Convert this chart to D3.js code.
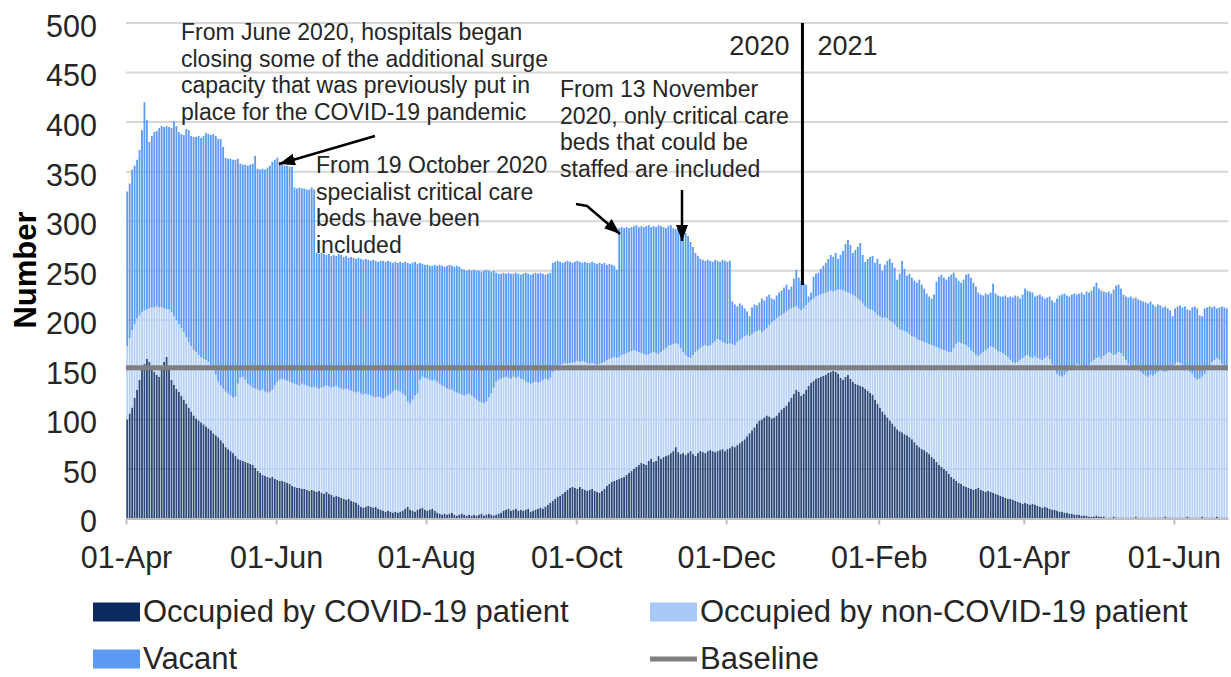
<!DOCTYPE html>
<html>
<head>
<meta charset="utf-8">
<script src="https://cdn.jsdelivr.net/npm/d3@7"></script>
<style>
  body { margin: 0; background: #fff; }
  svg { display: block; font-family: "Liberation Sans", Arial, sans-serif; }
</style>
</head>
<body>
<svg id="chart" width="1231" height="677"></svg>
<script>
// Daily critical care beds, 01 Apr 2020 onwards (one value per day)
const startDate = new Date(2020, 3, 1);

const covid = [
  100,106,112,122,130,140,150, 156,161,158,152,148,145,143, 150,158,163,150,140,135,131, 128,124,120,116,112,108,104,
  101,99,97,95,93,91,89, 86,84,82,79,76,72,70, 68,66,63,60,59,58,57, 56,55,54,51,48,46,44,
  43,42,41,42,40,39,38, 38,37,36,35,33,32,31, 31,30,30,29,28,29,28, 27,28,26,25,27,25,24,
  22,23,22,21,20,19,20, 18,17,16,14,12,11,12, 13,12,11,12,10,9,8, 7,8,7,6,7,6,7,
  8,10,12,9,8,7,9, 10,11,9,8,9,10,8, 6,5,4,5,4,5,6, 4,3,4,5,4,3,4,
  3,4,3,4,5,3,4, 5,4,3,4,5,6,8, 9,10,8,9,10,8,9, 8,9,10,7,8,9,10,
  11,10,12,14,16,18,20, 22,23,25,27,29,31,32, 31,30,32,30,29,28,29, 30,28,27,26,28,30,33,
  35,37,38,39,40,41,42, 44,46,48,50,52,54,56, 55,54,58,60,57,58,63, 60,62,63,64,66,68,72,
  67,65,66,64,66,68,65, 63,66,68,67,66,68,69, 68,67,68,69,70,68,70, 71,73,72,74,76,78,80,
  83,86,89,92,96,99,100, 102,104,103,101,102,104,107, 110,112,114,118,122,126,130, 128,124,126,130,134,137,139,
  141,142,143,144,145,147,148, 149,148,146,142,140,143,145, 141,138,136,135,134,133,131, 129,127,125,120,116,112,108,
  105,102,99,96,93,90,88, 87,85,84,82,80,77,74, 72,70,69,67,65,62,60, 57,54,52,50,48,45,42,
  40,38,36,35,33,32,31, 30,29,30,31,29,28,27, 28,27,26,25,24,23,22, 21,20,20,19,18,17,16,
  15,16,15,14,15,14,13, 12,11,12,11,10,9,9, 8,7,7,6,6,5,5, 4,4,4,3,3,3,2,
  2,2,3,2,2,2,1, 1,1,2,1,1,1,1, 1,1,1,1,2,1,1, 1,1,1,1,1,1,1,
  1,1,2,1,1,1,1, 1,1,1,1,2,1,1, 1,1,1,2,1,1,1, 1,1,2,1,1,1,1
];

const nonCovid = [
  74,76,78,74,72,65,58, 54,50,54,61,65,69,70, 63,54,48,61,68,69,69, 68,68,68,67,66,66,66,
  67,66,66,66,67,67,66, 64,61,56,55,55,56,56, 56,56,60,76,83,85,83, 80,79,78,80,82,83,86,
  85,85,87,88,94,99,102, 103,103,103,103,104,104,104, 103,106,105,105,105,103,105, 105,103,106,108,107,108,108,
  111,111,110,110,110,112,110, 111,111,111,114,114,114,114, 112,112,112,110,113,113,113, 115,116,119,122,123,123,121,
  118,114,106,107,112,117,117, 130,132,133,133,131,129,132, 132,131,130,128,127,125,124, 124,124,122,120,120,122,122,
  121,118,117,114,112,113,114, 117,122,129,134,135,135,134, 134,132,133,134,132,135,132, 132,129,127,129,129,129,127,
  127,130,129,126,126,130,132, 132,132,131,130,127,126,125, 127,129,126,129,129,129,127, 127,128,128,130,129,128,127,
  126,125,125,123,123,124,124, 123,122,121,120,117,114,111, 111,111,108,107,111,109,103, 108,108,109,110,109,108,105,
  109,107,102,101,97,94,100, 105,104,104,107,109,106,106, 109,112,113,111,108,109,106, 106,103,103,104,104,104,104,
  102,98,97,96,93,91,88, 88,88,92,97,98,98,97, 95,95,95,93,90,87,84, 84,86,86,85,84,83,83,
  83,83,83,83,83,82,82, 80,82,85,89,90,86,83, 86,88,88,87,86,84,83, 83,84,85,88,89,92,94,
  98,100,101,102,103,103,103, 103,104,104,104,104,106,107, 108,109,109,110,111,113,114, 116,118,119,120,121,123,126,
  132,138,142,142,143,143,142, 140,139,135,133,137,140,143, 144,147,147,146,145,145,145, 144,143,140,139,139,141,144,
  147,148,150,149,147,150,149, 149,149,150,153,151,147,141, 138,137,136,139,142,145,147, 150,152,151,150,148,149,153,
  156,158,159,161,159,162,165, 167,166,163,165,167,166,163, 159,155,153,151,148,150,147, 145,143,142,144,143,145,147,
  149,148,146,148,150,152,155, 157,156,154,151,148,147,145, 141,139,140,141,145,149,153, 157,159,160,159,155,152,150
];

const vacant = [
  156,156,162,160,160,167,184, 210,191,168,173,177,177,181, 183,183,185,184,186,197,196, 194,196,199,210,214,212,215,
  217,221,221,225,229,230,232, 238,241,245,249,244,236,237, 239,240,239,227,216,214,217, 220,223,226,235,223,223,223,
  224,227,228,230,228,226,220, 216,216,217,217,218,198,198, 200,197,198,198,199,202,199, 136,136,136,134,132,134,133,
  133,131,135,135,134,134,133, 135,135,135,135,136,136,136, 136,136,138,138,136,138,139, 137,136,133,130,129,129,131,
  132,135,140,141,138,135,131, 118,114,114,115,115,116,116, 117,120,121,121,124,126,125, 126,128,128,127,127,125,125,
  126,129,130,132,132,134,133, 128,123,118,110,107,106,106, 104,106,106,104,106,104,105, 107,110,110,110,110,110,110,
  110,107,105,107,106,110,107, 106,104,102,102,104,102,101, 101,101,101,99,101,101,102, 102,102,102,102,100,100,96,
  96,94,92,89,130,129,127, 127,125,125,125,127,126,128, 128,130,130,127,127,127,130, 127,124,121,121,121,117,115,
  117,122,124,123,122,117,109, 100,95,90,87,85,87,85, 82,82,79,79,83,83,83, 83,43,41,36,37,33,28,
  24,20,27,28,26,28,34, 30,32,31,24,21,23,24, 25,26,27,20,22,29,37, 31,30,26,21,6,8,22,
  23,23,26,28,30,33,36, 35,38,31,35,40,48,53, 49,42,47,52,58,49,45, 50,53,55,50,57,53,48,
  53,58,62,60,57,48,56, 70,63,57,61,59,57,57, 61,57,54,50,48,47,52, 66,72,75,73,72,76,78,
  76,67,62,61,65,71,74, 73,70,69,64,60,57,57, 54,54,64,56,56,56,57, 60,60,64,65,68,66,62,
  64,68,65,66,66,60,63, 65,64,60,59,63,64,68, 76,81,83,82,77,74,74, 73,70,72,75,75,77,73,
  72,74,76,69,69,65,62, 61,60,66,69,68,65,62, 64,67,70,70,73,70,72, 73,74,74,74,72,68,68,
  65,64,66,63,59,51,56, 56,58,58,62,61,62,67, 72,72,64,61,66,63,60, 55,54,50,53,58,60,61
];

const baselineBeds = 152;

const yTicks = [0, 50, 100, 150, 200, 250, 300, 350, 400, 450, 500];
const xTickDates = [
  new Date(2020, 3, 1), new Date(2020, 5, 1), new Date(2020, 7, 1), new Date(2020, 9, 1),
  new Date(2020, 11, 1), new Date(2021, 1, 1), new Date(2021, 3, 1), new Date(2021, 5, 1)
];
const xTickLabels = ['01-Apr', '01-Jun', '01-Aug', '01-Oct', '01-Dec', '01-Feb', '01-Apr', '01-Jun'];

const seriesKeys = ['covid', 'nonCovid', 'vacant'];
// bars are drawn thinner than a day, so these mix with the white gaps
const seriesColors = { covid: '#2a4878', nonCovid: '#b6d1f9', vacant: '#5d9cf4' };

const svg = d3.select('#chart');
const font = '"Liberation Sans", Arial, sans-serif';

// Scales

const rows = covid.map((c, i) => ({
  date: d3.timeDay.offset(startDate, i),
  covid: c,
  nonCovid: nonCovid[i],
  vacant: vacant[i],
}));

const x = d3.scaleTime()
  .domain([startDate, d3.timeDay.offset(startDate, rows.length)])
  .range([126, 1228]);

const y = d3.scaleLinear()
  .domain([0, 500])
  .range([518.5, 23]);

// Gridlines

svg.append('g')
  .selectAll('line')
  .data(yTicks.slice(1))
  .join('line')
  .attr('x1', x.range()[0])
  .attr('x2', x.range()[1])
  .attr('y1', d => y(d))
  .attr('y2', d => y(d))
  .attr('stroke', '#d6d6d6')
  .attr('stroke-width', 2);

// Stacked daily bars

const stacked = d3.stack().keys(seriesKeys)(rows);
const dayWidth = x(d3.timeDay.offset(startDate, 1)) - x(startDate);
const barWidth = dayWidth * 0.74;

svg.append('g')
  .selectAll('g')
  .data(stacked)
  .join('g')
  .attr('fill', d => seriesColors[d.key])
  .selectAll('rect')
  .data(d => d)
  .join('rect')
  .attr('x', d => x(d.data.date) + (dayWidth - barWidth) / 2)
  .attr('width', barWidth)
  .attr('y', d => y(d[1]))
  .attr('height', d => y(d[0]) - y(d[1]));

// Baseline

svg.append('line')
  .attr('x1', x.range()[0])
  .attr('x2', x.range()[1])
  .attr('y1', y(baselineBeds))
  .attr('y2', y(baselineBeds))
  .attr('stroke', '#7f7f7f')
  .attr('stroke-width', 5);

// Axes

const xAxis = svg.append('g')
  .attr('transform', `translate(0, ${y(0)})`)
  .call(d3.axisBottom(x)
    .tickValues(xTickDates)
    .tickFormat((d, i) => xTickLabels[i])
    .tickSizeInner(6)
    .tickSizeOuter(0)
    .tickPadding(22));
xAxis.select('.domain').attr('stroke', '#bfbfbf').attr('stroke-width', 2);
xAxis.selectAll('.tick line').attr('stroke', '#bfbfbf').attr('stroke-width', 2);
xAxis.selectAll('text').attr('font-size', 30.5).attr('font-family', font).attr('fill', '#262626');

const yAxis = svg.append('g')
  .attr('transform', `translate(${x.range()[0]}, 0)`)
  .call(d3.axisLeft(y).tickValues(yTicks).tickSize(0).tickPadding(29));
yAxis.select('.domain').remove();
yAxis.selectAll('text')
  .attr('font-size', 30.5)
  .attr('font-family', font)
  .attr('fill', '#262626')
  .attr('dy', '0.44em');

svg.append('text')
  .attr('transform', 'translate(36, 270) rotate(-90)')
  .attr('text-anchor', 'middle')
  .attr('font-size', 31)
  .attr('font-weight', 'bold')
  .attr('fill', '#000')
  .text('Number');

// Annotations

const defs = svg.append('defs');
defs.append('marker')
  .attr('id', 'head')
  .attr('viewBox', '0 0 16 12')
  .attr('refX', 16)
  .attr('refY', 6)
  .attr('markerWidth', 16)
  .attr('markerHeight', 12)
  .attr('markerUnits', 'userSpaceOnUse')
  .attr('orient', 'auto')
  .append('path')
  .attr('d', 'M0,0 L16,6 L0,12 Z')
  .attr('fill', '#000');

const notes = [
  { x: 181, y: 40, lines: ['From June 2020, hospitals began', 'closing some of the additional surge',
    'capacity that was previously put in', 'place for the COVID-19 pandemic'] },
  { x: 316, y: 173, lines: ['From 19 October 2020', 'specialist critical care', 'beds have been', 'included'] },
  { x: 560, y: 97, lines: ['From 13 November', '2020, only critical care', 'beds that could be', 'staffed are included'] },
];

notes.forEach(n => {
  svg.append('text')
    .attr('x', n.x)
    .attr('y', n.y)
    .attr('font-size', 23)
    .attr('fill', '#262626')
    .selectAll('tspan')
    .data(n.lines)
    .join('tspan')
    .attr('x', n.x)
    .attr('dy', (d, i) => (i === 0 ? 0 : 26.5))
    .text(d => d);
});

const arrows = [
  [[375, 136], [279, 164]],
  [[576, 204], [587, 206], [620, 234]],
  [[682, 190], [682, 241]],
];

svg.append('g')
  .selectAll('path')
  .data(arrows)
  .join('path')
  .attr('d', d => d3.line()(d))
  .attr('fill', 'none')
  .attr('stroke', '#000')
  .attr('stroke-width', 2.5)
  .attr('marker-end', 'url(#head)');

// Year divider

const yearStart = new Date(2021, 0, 1);
svg.append('line')
  .attr('x1', x(yearStart))
  .attr('x2', x(yearStart))
  .attr('y1', y(500))
  .attr('y2', 285)
  .attr('stroke', '#000')
  .attr('stroke-width', 3);

svg.append('text')
  .attr('x', x(yearStart) - 13)
  .attr('y', 55)
  .attr('text-anchor', 'end')
  .attr('font-size', 27)
  .attr('fill', '#262626')
  .text('2020');

svg.append('text')
  .attr('x', x(yearStart) + 15)
  .attr('y', 55)
  .attr('font-size', 27)
  .attr('fill', '#262626')
  .text('2021');

// Legend

const legendItems = [
  { label: 'Occupied by COVID-19 patient', type: 'box', color: '#0b2a5e', x: 93, y: 612 },
  { label: 'Occupied by non-COVID-19 patient', type: 'box', color: '#a9c9f8', x: 650, y: 612 },
  { label: 'Vacant', type: 'box', color: '#5b9bf5', x: 93, y: 659 },
  { label: 'Baseline', type: 'line', color: '#7f7f7f', x: 650, y: 659 },
];

const legend = svg.append('g')
  .selectAll('g')
  .data(legendItems)
  .join('g')
  .attr('transform', d => `translate(${d.x}, ${d.y})`);

legend.filter(d => d.type === 'box')
  .append('rect')
  .attr('x', 0)
  .attr('y', -9.5)
  .attr('width', 47)
  .attr('height', 19)
  .attr('fill', d => d.color);

legend.filter(d => d.type === 'line')
  .append('line')
  .attr('x1', 0)
  .attr('x2', 47)
  .attr('stroke', d => d.color)
  .attr('stroke-width', 5);

legend.append('text')
  .attr('x', 50)
  .attr('y', 10)
  .attr('font-size', 31)
  .attr('fill', '#262626')
  .text(d => d.label);
</script>
</body>
</html>
